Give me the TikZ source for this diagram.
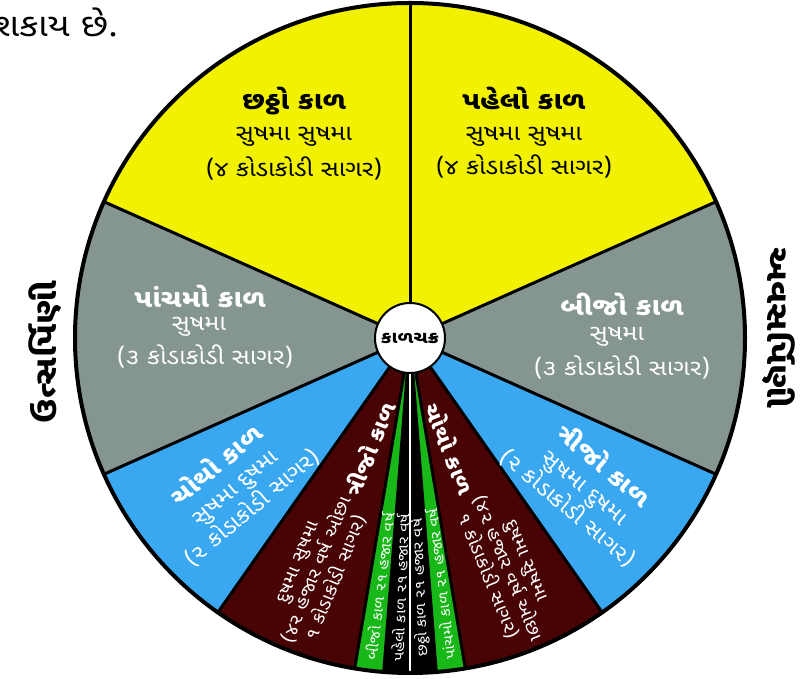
\documentclass[tikz,border=0pt]{standalone}
\usepackage{fontspec}
\newfontfamily\guj[Script=Gujarati,FakeStretch=1.15]{Noto Sans Gujarati UI}
\definecolor{kalyellow}{RGB}{242,242,0}
\definecolor{kalgray}{RGB}{132,149,146}
\definecolor{kalblue}{RGB}{58,168,240}
\definecolor{kalbrown}{RGB}{72,4,4}
\definecolor{kalgreen}{RGB}{24,184,24}

\begin{document}
\begin{tikzpicture}[x=1pt,y=1pt,
  spoke/.style={draw=black,line width=3pt},
  head/.style={inner sep=0pt,font=\guj\bfseries\fontsize{25}{28}\selectfont},
  sub/.style={inner sep=0pt,font=\guj\fontsize{22}{26}\selectfont},
  blk/.style={inner sep=0pt,align=center,text=white,font=\guj\fontsize{21}{27}\selectfont},
  brn/.style={inner sep=0pt,align=center,text=white,font=\guj\fontsize{17.5}{21}\selectfont},
  strip/.style={inner sep=0pt,text=white,font=\guj\fontsize{14}{16}\selectfont},
  side/.style={inner sep=0pt,font=\guj\bfseries\fontsize{31}{34}\selectfont}]
\useasboundingbox (0,0) rectangle (806,679);

\node[anchor=base east,inner sep=0pt,font=\guj\fontsize{32}{36}\selectfont] (sakay) at (118,642) {શકાય છે.};

\begin{scope}[shift={(410,341)}]
\def\R{335}
\foreach \a/\b/\c in {24/156/kalyellow,-24/24/kalgray,156/204/kalgray,-55/-24/kalblue,204/235/kalblue,
  -80.5/-55/kalbrown,235/260.5/kalbrown,-85.5/-80.5/kalgreen,260.5/265.5/kalgreen,-94.5/-85.5/black}
  \fill[\c] (0,0) -- (\a:\R) arc[start angle=\a,end angle=\b,radius=\R] -- cycle;
\foreach \a in {90,24,156,-24,204,-55,235,-80.5,260.5,-85.5,265.5}
  \draw[spoke] (0,0) -- (\a:\R);
\draw[white,line width=2.5pt] (0,0) -- (-90:\R);
\draw[line width=4pt] (0,0) circle[radius=\R];

\node[blk,rotate=40] (ut4) at (220:230) {{\bfseries\fontsize{24}{28}\selectfont ચોથો કાળ}\\સુષમા દુષમા\\(૨ કોડાકોડી સાગર)};
\node[blk,rotate=-40] (av3) at (-40:230) {{\bfseries\fontsize{24}{28}\selectfont ત્રીજો કાળ}\\સુષમા દુષમા\\(૨ કોડાકોડી સાગર)};

\node[brn,rotate=68,font=\guj\bfseries\fontsize{21}{24}\selectfont] (ut3) at (250:118) {ત્રીજો કાળ};
\node[brn,rotate=67.75] (ut3t) at (248.5:250) {દુષમા સુષમા\\(૪૨ હજાર વર્ષ ઓછા\\૧ કોડાકોડી સાગર)};
\node[brn,rotate=-68,font=\guj\bfseries\fontsize{21}{24}\selectfont] (av4) at (-70:118) {ચોથો કાળ};
\node[brn,rotate=-67.75] (av4t) at (-67.5:250) {દુષમા સુષમા\\(૪૨ હજાર વર્ષ ઓછા\\૧ કોડાકોડી સાગર)};

\node[strip,rotate=83] (ut2) at (263:250) {બીજો કાળ ૨૧ હજાર વર્ષ};
\node[strip,rotate=87.75] (ut1) at (267.75:250) {પહેલો કાળ ૨૧ હજાર વર્ષ};
\node[strip,rotate=92.25] (av6) at (-87.75:250) {છઠ્ઠો કાળ ૨૧ હજાર વર્ષ};
\node[strip,rotate=97] (av5) at (-83:248) {પાંચમો કાળ ૨૧ હજાર વર્ષ};

\node[circle,draw,line width=2pt,fill=white,minimum size=70pt,inner sep=0pt,
  font=\guj\bfseries\fontsize{17}{19}\selectfont] (chakra) at (0,0) {કાળચક્ર};
\end{scope}

\node[head] (ut6) at (294,578) {છઠ્ઠો કાળ};
\node[sub] (ut6a) at (294,542) {સુષમા સુષમા};
\node[sub] (ut6b) at (294,511) {(૪ કોડાકોડી સાગર)};
\node[head] (av1) at (524,581) {પહેલો કાળ};
\node[sub] (av1a) at (524,542) {સુષમા સુષમા};
\node[sub] (av1b) at (524,513) {(૪ કોડાકોડી સાગર)};

\node[head,text=white] (ut5) at (200,383) {પાંચમો કાળ};
\node[sub,text=white] (ut5a) at (199,352) {સુષમા};
\node[sub,text=white] (ut5b) at (205,323) {(૩ કોડાકોડી સાગર)};
\node[head,text=white] (av2) at (622,375) {બીજો કાળ};
\node[sub,text=white] (av2a) at (617,342) {સુષમા};
\node[sub,text=white] (av2b) at (622,312) {(૩ કોડાકોડી સાગર)};

\node[side,rotate=90] (utsarpini) at (45,327) {ઉત્સર્પિણી};
\node[side,rotate=-90] (avasarpini) at (779,351) {અવસર્પિણી};
\end{tikzpicture}
\end{document}
